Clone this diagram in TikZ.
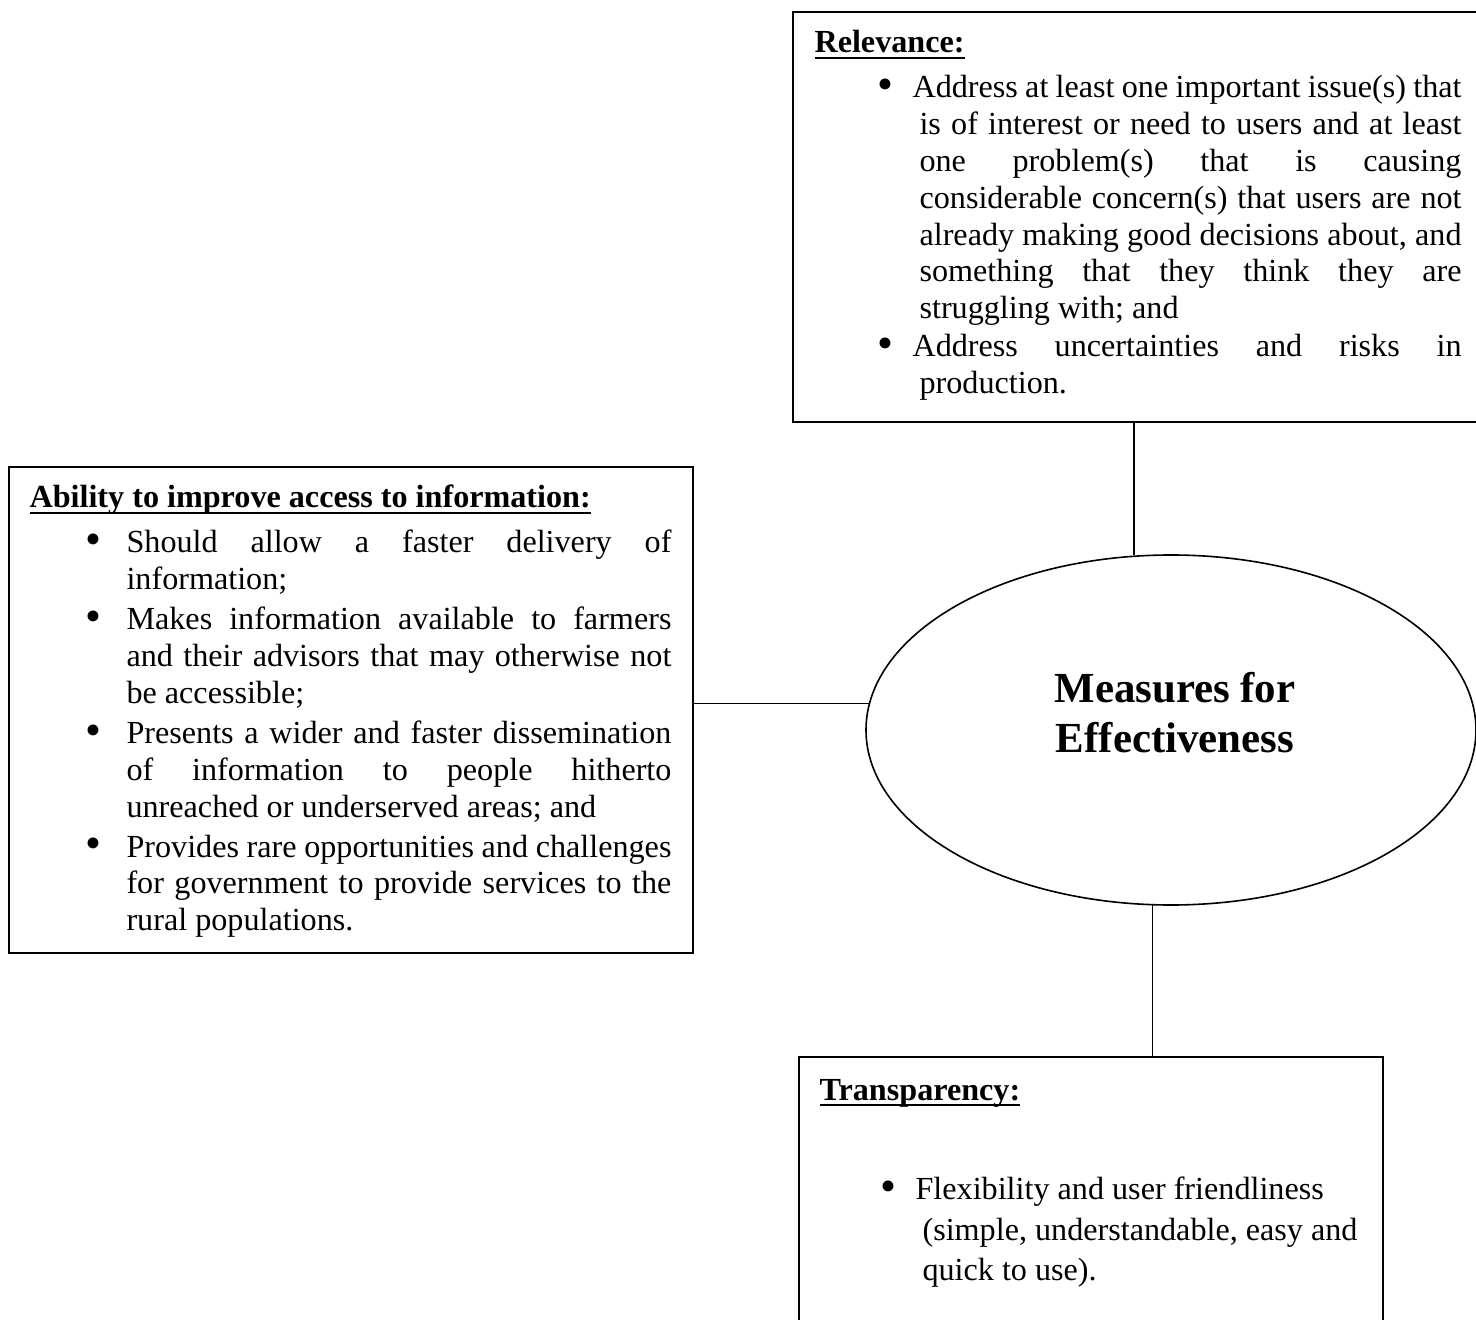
\documentclass[tikz,border=0pt]{standalone}
\usepackage{fontspec}
\setmainfont{Liberation Serif}
\usetikzlibrary{shapes.geometric,fit}

% one pixel of the layout
\newcommand{\px}{0.3731pt}
% bold underlined box heading
\newcommand{\boxhead}[1]{\leavevmode\setbox0\hbox{\textbf{#1}}\rlap{\rule[-2.4pt]{\wd0}{1pt}}\box0}
% the round bullet
\newcommand{\dotmark}{\raisebox{-0.6pt}{\fontsize{17pt}{17pt}\selectfont\textbullet}}
% bullets: left margin, bullet gap, space above, space between
\newenvironment{bulletlist}[4]{%
  \begin{list}{\dotmark}{\setlength{\leftmargin}{#1}\setlength{\labelwidth}{0pt}%
    \setlength{\labelsep}{0pt}\setlength{\topsep}{#3}\setlength{\partopsep}{0pt}%
    \setlength{\parsep}{0pt}\setlength{\itemsep}{#4}%
    \renewcommand{\makelabel}[1]{\llap{\makebox[#2][l]{##1}}}}}
  {\end{list}}

\begin{document}
\begin{tikzpicture}[x=\px,y=-\px,
  box/.style={draw,line width=0.8pt,inner sep=0pt},
  link/.style={line width=0.5pt},
  boxtext/.style={inner sep=0pt,anchor=base west,font=\fontsize{12pt}{13.73pt}\selectfont}]

	\useasboundingbox[fill=white] (0,0) rectangle (1476,1320);

	% boxes
	\node [box,fit={(793,12) (1480,422)}] (relevance) {};
	\node [box,fit={(9,467) (693,953)}] (ability) {};
	\node [box,fit={(799,1057) (1383,1330)}] (transparency) {};

	% centre
	\node [ellipse,draw,line width=0.6pt,inner sep=0pt,minimum width=610*\px,minimum height=350*\px] (measures) at (1171,730) {};
	\node [font=\fontsize{16pt}{18.6pt}\selectfont\bfseries,align=center] (title) at (1175,713) {Measures for\\Effectiveness};

	% relevance
	\node [boxtext] (relevancetext) at (814,53) {\begin{minipage}[t]{241.4pt}
		\boxhead{Relevance:}
		\begin{bulletlist}{39.18pt}{15.67pt}{3.06pt}{0.5pt}
		\item\hspace*{-2.6pt}Address at least one important issue(s) that\linebreak
			is of interest or need to users and at least\linebreak
			one problem(s) that is causing\linebreak
			considerable concern(s) that users are not\linebreak
			already making good decisions about, and\linebreak
			something that they think they are\linebreak
			struggling with; and
		\item\hspace*{-2.6pt}Address uncertainties and risks in\linebreak
			production.
		\end{bulletlist}
	\end{minipage}};

	% ability
	\node [boxtext] (abilitytext) at (29,508) {\begin{minipage}[t]{239.5pt}
		\boxhead{Ability to improve access to information:}
		\begin{bulletlist}{36.19pt}{15.3pt}{3.06pt}{1.2pt}
		\item Should allow a faster delivery of\linebreak
			information;
		\item Makes information available to farmers\linebreak
			and their advisors that may otherwise not\linebreak
			be accessible;
		\item Presents a wider and faster dissemination\linebreak
			of information to people hitherto\linebreak
			unreached or underserved areas; and
		\item Provides rare opportunities and challenges\linebreak
			for government to provide services to the\linebreak
			rural populations.
		\end{bulletlist}
	\end{minipage}};

	% transparency
	\node [boxtext,font=\fontsize{12pt}{15.1pt}\selectfont] (transparencytext) at (819,1100) {\begin{minipage}[t]{205.6pt}
		\boxhead{Transparency:}
		\begin{bulletlist}{38.43pt}{15.67pt}{22.2pt}{0pt}
		\item\hspace*{-2.6pt}Flexibility and user friendliness\\
			(simple, understandable, easy and\\
			quick to use).
		\end{bulletlist}
	\end{minipage}};

	% connectors
	\draw [link] (relevance.south -| measures.102) -- (measures.102);
	\draw [link] (ability.east |- measures.175) -- (measures.175);
	\draw [link] (measures.264) -- (measures.264 |- transparency.north);

\end{tikzpicture}
\end{document}
